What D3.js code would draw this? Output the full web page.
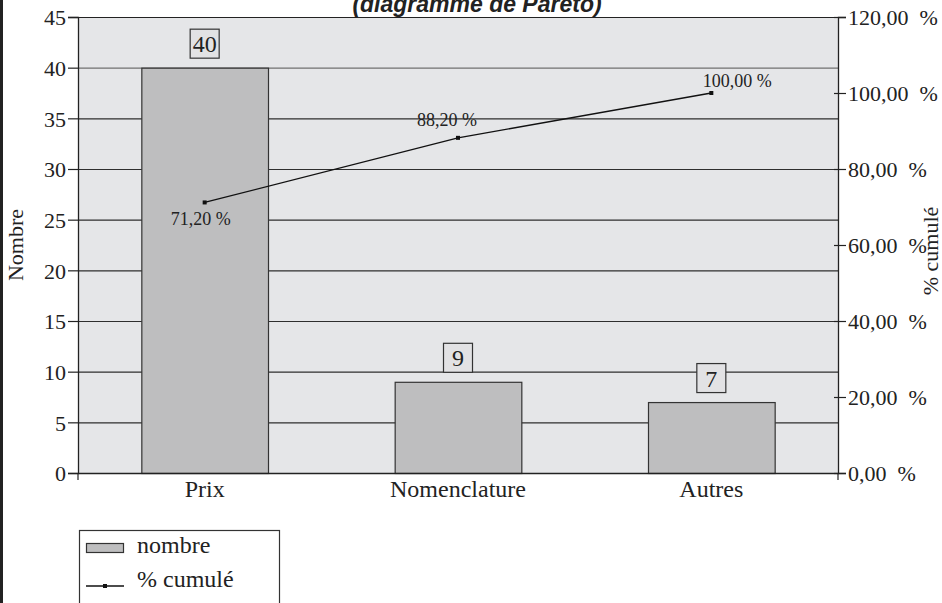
<!DOCTYPE html>
<html>
<head>
<meta charset="utf-8">
<script src="https://cdn.jsdelivr.net/npm/d3@7"></script>
<style>
  body { margin: 0; background: #fff; }
  text { font-family: "Liberation Serif", "Times New Roman", serif; fill: #222; }
</style>
</head>
<body>
<div class="graph"></div>
<script>
// Data
var categories = ["Prix", "Nomenclature", "Autres"];
var nombre = [40, 9, 7];
var cumul = [71.2, 88.2, 100];
var leftTicks = [0, 5, 10, 15, 20, 25, 30, 35, 40, 45];
var rightTicks = [0, 20, 40, 60, 80, 100, 120];
// label offsets for the % labels (dx, dy from the point)
var pctOffsets = [[-4, 23], [-11, -12], [26, -6]];

var W = 942, H = 603;
var margin = {top: 17, right: 104, bottom: 130, left: 78},
    width = W - margin.left - margin.right,
    height = H - margin.top - margin.bottom;

var svg = d3.select(".graph").append("svg")
    .attr("width", W)
    .attr("height", H);

// left black edge
svg.append("rect").attr("x", 0).attr("y", 0).attr("width", 3).attr("height", H).attr("fill", "#222");

// title (cut at top)
svg.append("text")
    .attr("x", 477).attr("y", 12)
    .attr("text-anchor", "middle")
    .style("font-family", "'Liberation Sans', Arial, sans-serif")
    .style("font-weight", "bold").style("font-style", "italic")
    .style("font-size", "23px")
    .text("(diagramme de Pareto)");

var g = svg.append("g")
    .attr("transform", "translate(" + margin.left + "," + margin.top + ")");

// Scales
var x = d3.scaleBand().domain(categories).range([0, width])
    .paddingInner(0.5).paddingOuter(0.25);
var y = d3.scaleLinear().domain([0, 45]).range([height, 0]);
var y2 = d3.scaleLinear().domain([0, 120]).range([height, 0]);

// plot background
g.append("rect").attr("width", width).attr("height", height).attr("fill", "#e5e6e8");

// gridlines
g.selectAll(".grid").data(leftTicks).enter().append("line")
    .attr("x1", 0).attr("x2", width)
    .attr("y1", function(d) { return y(d) + 0.5; })
    .attr("y2", function(d) { return y(d) + 0.5; })
    .attr("stroke", function(d) { return d == 40 ? "#707070" : "#2e2e2e"; })
    .attr("stroke-width", 1.1);

// bars
g.selectAll(".bar").data(nombre).enter().append("rect")
    .attr("x", function(d, i) { return x(categories[i]) + 0.5; })
    .attr("y", function(d) { return y(d) + 0.5; })
    .attr("width", x.bandwidth())
    .attr("height", function(d) { return height - y(d); })
    .attr("fill", "#bebebf")
    .attr("stroke", "#333").attr("stroke-width", 1.2);

// value boxes above bars
var vb = g.selectAll(".vb").data(nombre).enter().append("g")
    .attr("transform", function(d, i) {
      return "translate(" + (x(categories[i]) + x.bandwidth() / 2) + "," + (y(d) - 24) + ")";
    });
vb.append("rect")
    .attr("x", -14.5).attr("y", -14.5).attr("width", 29).attr("height", 29)
    .attr("fill", "#e2e2e4").attr("stroke", "#333").attr("stroke-width", 1.2);
vb.append("text")
    .attr("text-anchor", "middle").attr("y", 8.5)
    .style("font-size", "24px")
    .text(function(d) { return d; });

// cumulative line
var line = d3.line()
    .x(function(d, i) { return x(categories[i]) + x.bandwidth() / 2; })
    .y(function(d) { return y2(d); });
g.append("path").datum(cumul)
    .attr("d", line).attr("fill", "none")
    .attr("stroke", "#111").attr("stroke-width", 1.3);
g.selectAll(".pt").data(cumul).enter().append("rect")
    .attr("x", function(d, i) { return x(categories[i]) + x.bandwidth() / 2 - 2; })
    .attr("y", function(d) { return y2(d) - 2; })
    .attr("width", 4).attr("height", 4).attr("fill", "#111");

var fmt = function(d) { return d3.format(".2f")(d).replace(".", ",") + "\u2002%"; };
g.selectAll(".pl").data(cumul).enter().append("text")
    .attr("x", function(d, i) { return x(categories[i]) + x.bandwidth() / 2 + pctOffsets[i][0]; })
    .attr("y", function(d, i) { return y2(d) + pctOffsets[i][1]; })
    .attr("text-anchor", "middle")
    .style("font-size", "18px")
    .text(function(d) { return d3.format(".2f")(d).replace(".", ",") + " %"; });

// Axes
var ax = g.append("g")
    .call(d3.axisLeft(y).tickValues(leftTicks).tickSize(10).tickPadding(2));
ax.selectAll("text").style("font-size", "22px").attr("dy", "0.36em");

var ar = g.append("g")
    .attr("transform", "translate(" + width + ",0)")
    .call(d3.axisRight(y2).tickValues(rightTicks).tickSize(8).tickFormat(fmt).tickPadding(2));
ar.selectAll(".tick line").attr("x1", -4);
ar.selectAll("text").style("font-size", "22px").attr("dy", "0.36em");

var ab = g.append("g")
    .attr("transform", "translate(0," + height + ")")
    .call(d3.axisBottom(x).tickSize(0).tickPadding(5));
ab.selectAll("text").style("font-size", "24px").attr("dy", "0.8em");

g.selectAll(".domain").attr("stroke", "#222").attr("stroke-width", 1.3);
g.selectAll(".tick line").attr("stroke", "#222").attr("stroke-width", 1.2);

// small outer ticks at the bottom corners
[0, width].forEach(function(px) {
  g.append("line").attr("x1", px).attr("x2", px)
      .attr("y1", height).attr("y2", height + 7)
      .attr("stroke", "#222").attr("stroke-width", 1.2);
});

// top border
g.append("line").attr("x1", 0).attr("x2", width).attr("y1", 0.5).attr("y2", 0.5)
    .attr("stroke", "#222").attr("stroke-width", 1.2);

// axis titles
svg.append("text")
    .attr("transform", "translate(23," + (margin.top + height / 2) + ") rotate(-90)")
    .attr("text-anchor", "middle").style("font-size", "22px")
    .text("Nombre");
svg.append("text")
    .attr("transform", "translate(938," + (margin.top + height / 2 + 6) + ") rotate(-90)")
    .attr("text-anchor", "middle").style("font-size", "22px")
    .text("% cumulé");

// legend
var leg = svg.append("g").attr("transform", "translate(79,530)");
leg.append("rect").attr("x", 0.5).attr("y", 0.5).attr("width", 200).attr("height", 90)
    .attr("fill", "#fff").attr("stroke", "#333").attr("stroke-width", 1.2);
leg.append("rect").attr("x", 7.5).attr("y", 13.5).attr("width", 37).attr("height", 9)
    .attr("fill", "#bebebf").attr("stroke", "#333").attr("stroke-width", 1.2);
leg.append("text").attr("x", 58).attr("y", 23).style("font-size", "24px").text("nombre");
leg.append("line").attr("x1", 7).attr("x2", 45).attr("y1", 56).attr("y2", 56)
    .attr("stroke", "#111").attr("stroke-width", 1.3);
leg.append("rect").attr("x", 24).attr("y", 54).attr("width", 4).attr("height", 4).attr("fill", "#111");
leg.append("text").attr("x", 58).attr("y", 57).style("font-size", "24px").text("% cumulé");
</script>
</body>
</html>
